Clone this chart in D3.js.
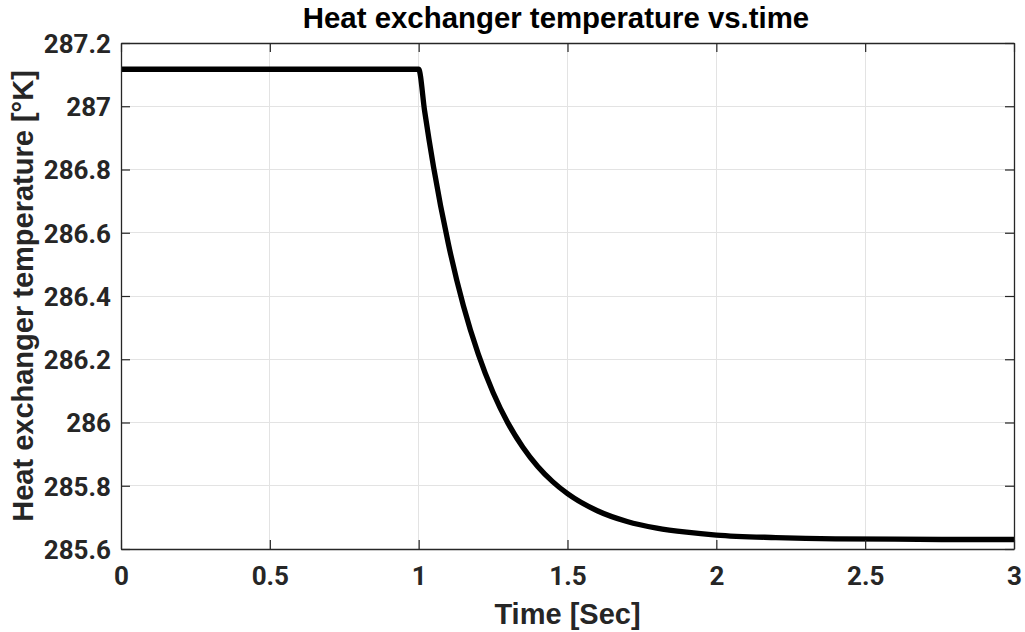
<!DOCTYPE html>
<html>
<head>
<meta charset="utf-8">
<script src="https://cdn.jsdelivr.net/npm/d3@7"></script>
<style>
  html, body { margin: 0; padding: 0; background: #fff; }
  svg { display: block; }
</style>
</head>
<body>
<svg id="chart" width="1025" height="632"></svg>
<script>
// ---- data ----
const timeSec = [0, 0.5, 1.0, 1.02, 1.05, 1.1, 1.15, 1.2, 1.25, 1.3, 1.35, 1.4, 1.45, 1.5,
                 1.6, 1.7, 1.8, 1.9, 2.0, 2.2, 2.4, 2.6, 2.8, 3.0];
const tempK   = [287.117, 287.117, 287.117, 286.985, 286.808, 286.564, 286.370, 286.217, 286.095,
                 285.998, 285.922, 285.861, 285.813, 285.775, 285.721, 285.687, 285.666, 285.653,
                 285.644, 285.636, 285.632, 285.631, 285.630, 285.630];
const xTicks = [0, 0.5, 1, 1.5, 2, 2.5, 3];
const yTicks = [285.6, 285.8, 286, 286.2, 286.4, 286.6, 286.8, 287, 287.2];
const titleText = "Heat exchanger temperature vs.time";
const xLabelText = "Time [Sec]";
const yLabelText = "Heat exchanger temperature [°K]";

// ---- layout ----
const L = 121, R = 1014, T = 43, B = 549;
const svg = d3.select("#chart");
const x = d3.scaleLinear().domain([0, 3]).range([L, R]);
const y = d3.scaleLinear().domain([285.6, 287.2]).range([B, T]);
const axisColor = "#262626";
const tickFont = "Roboto, 'Liberation Sans', Arial, sans-serif";
const labelFont = "'Liberation Sans', Arial, Helvetica, sans-serif";

// grid
const grid = svg.append("g");
grid.selectAll(".gx").data(xTicks).join("line")
  .attr("x1", d => x(d)).attr("x2", d => x(d)).attr("y1", T).attr("y2", B)
  .attr("stroke", "#e3e3e3").attr("stroke-width", 1).attr("shape-rendering", "crispEdges");
grid.selectAll(".gy").data(yTicks).join("line")
  .attr("x1", L).attr("x2", R).attr("y1", d => y(d)).attr("y2", d => y(d))
  .attr("stroke", "#e3e3e3").attr("stroke-width", 1).attr("shape-rendering", "crispEdges");

// data line
const line = d3.line().x((d, i) => x(timeSec[i])).y(d => y(d)).curve(d3.curveMonotoneX);
svg.append("path").datum(tempK)
  .attr("d", line).attr("fill", "none").attr("stroke", "#000")
  .attr("stroke-width", 5.3).attr("stroke-linejoin", "round");

// axes (inward ticks on all four sides)
const tl = 9;
const axB = svg.append("g").attr("transform", `translate(0,${B})`)
  .call(d3.axisBottom(x).tickValues(xTicks).tickSizeInner(-tl).tickSizeOuter(0).tickPadding(14)
        .tickFormat(d3.format("~g")));
const axT = svg.append("g").attr("transform", `translate(0,${T})`)
  .call(d3.axisTop(x).tickValues(xTicks).tickSizeInner(-tl).tickSizeOuter(0).tickFormat(""));
const axL = svg.append("g").attr("transform", `translate(${L},0)`)
  .call(d3.axisLeft(y).tickValues(yTicks).tickSizeInner(-tl).tickSizeOuter(0).tickPadding(20)
        .tickFormat(d3.format("~g")));
const axR = svg.append("g").attr("transform", `translate(${R},0)`)
  .call(d3.axisRight(y).tickValues(yTicks).tickSizeInner(-tl).tickSizeOuter(0).tickFormat(""));

[axB, axT, axL, axR].forEach(g => {
  g.select(".domain").attr("stroke", axisColor).attr("stroke-width", 1.3);
  g.selectAll(".tick line").attr("stroke", axisColor).attr("stroke-width", 1.2);
  g.selectAll("text").attr("fill", axisColor).attr("font-family", tickFont)
    .attr("font-weight", "bold").attr("font-size", "26px");
});
axB.selectAll(".tick text").attr("dy", "0.71em").attr("y", 18);
axL.selectAll(".tick text").attr("x", -10).attr("dy", "0.36em");

// title
svg.append("text").attr("x", 556).attr("y", 28).attr("text-anchor", "middle")
  .attr("font-family", labelFont).attr("font-weight", "bold")
  .attr("font-size", "29.4px").attr("fill", "#000").text(titleText);

// axis labels
svg.append("text").attr("x", (L + R) / 2).attr("y", 624).attr("text-anchor", "middle")
  .attr("font-family", labelFont).attr("font-weight", "bold").attr("font-size", "29px")
  .attr("fill", axisColor).text(xLabelText);
svg.append("text").attr("transform", `translate(33,${(T + B) / 2}) rotate(-90)`)
  .attr("text-anchor", "middle")
  .attr("font-family", labelFont).attr("font-weight", "bold").attr("font-size", "29px")
  .attr("fill", axisColor).text(yLabelText);
</script>
</body>
</html>
